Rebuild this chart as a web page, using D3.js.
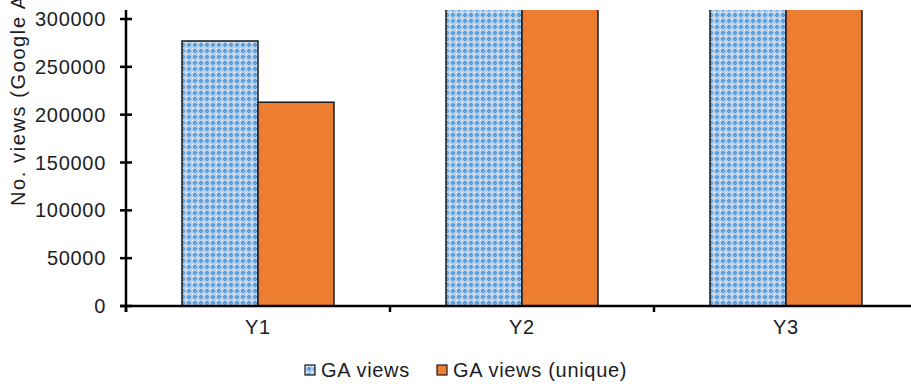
<!DOCTYPE html>
<html>
<head>
<meta charset="utf-8">
<script src="https://cdn.jsdelivr.net/npm/d3@7"></script>
<style>
  html, body { margin: 0; padding: 0; background: #fff; }
  svg { display: block; font-family: "Liberation Sans", Arial, sans-serif; }
  text { letter-spacing: 0.7px; }
</style>
</head>
<body>
<svg id="chart" width="911" height="389"></svg>
<script>
// Yearly page views from Google Analytics
const years = ["Y1", "Y2", "Y3"];
const seriesNames = ["GA views", "GA views (unique)"];
const gaViews = [277000, 415000, 460000];
const gaViewsUnique = [213000, 330000, 355000];
const yTicks = [0, 50000, 100000, 150000, 200000, 250000, 300000];

const svg = d3.select("#chart");
const textColor = "#1c1c28";

const x0 = d3.scaleBand().domain(years).range([126, 918]).paddingInner(0).paddingOuter(0);
const x1 = d3.scaleBand().domain(seriesNames).range([0, x0.bandwidth()]).paddingInner(0).paddingOuter(0.737);
const y = d3.scaleLinear().domain([0, 300000]).range([306, 19]);

// Lattice fill for the total-views series
const defs = svg.append("defs");
const pat = defs.append("pattern")
  .attr("id", "lattice").attr("patternUnits", "userSpaceOnUse")
  .attr("width", 6).attr("height", 6);
pat.append("rect").attr("width", 6).attr("height", 6).attr("fill", "#b3d0ef");
pat.append("rect").attr("x", 2).attr("y", 1).attr("width", 2).attr("height", 4).attr("fill", "#5b9bd5");
pat.append("rect").attr("x", 1).attr("y", 2).attr("width", 4).attr("height", 2).attr("fill", "#5b9bd5");
pat.append("rect").attr("x", 0).attr("y", 0).attr("width", 1).attr("height", 1).attr("fill", "#ffffff");
pat.append("rect").attr("x", 3).attr("y", 3).attr("width", 1).attr("height", 1).attr("fill", "#7fb0e0");

defs.append("clipPath").attr("id", "plotClip")
  .append("rect").attr("x", 120).attr("y", 10).attr("width", 800).attr("height", 300);

const fills = ["url(#lattice)", "#ed7d31"];
const rows = years.map((yr, i) => ({ year: yr, values: [gaViews[i], gaViewsUnique[i]] }));

// Bars
const bars = svg.append("g").attr("clip-path", "url(#plotClip)");
rows.forEach(r => {
  r.values.forEach((v, j) => {
    bars.append("rect")
      .attr("x", x0(r.year) + x1(seriesNames[j]))
      .attr("y", y(v))
      .attr("width", x1.bandwidth())
      .attr("height", y(0) - y(v))
      .attr("fill", fills[j])
      .attr("stroke", "#1a1a1a")
      .attr("stroke-width", 1.5);
  });
});

// Y axis
const yAxis = svg.append("g").attr("transform", "translate(126,0)");
yAxis.append("line").attr("x1", 0).attr("x2", 0).attr("y1", 10).attr("y2", 312)
  .attr("stroke", "#000").attr("stroke-width", 2.5);
yAxis.selectAll(".tick").data(yTicks).join("line")
  .attr("x1", -6).attr("x2", 6).attr("y1", d => y(d)).attr("y2", d => y(d))
  .attr("stroke", "#000").attr("stroke-width", 2.5);
yAxis.selectAll(".lbl").data(yTicks).join("text")
  .attr("x", -20).attr("y", d => y(d)).attr("dy", "0.35em")
  .attr("text-anchor", "end").attr("font-size", 20).attr("fill", textColor)
  .text(d => d);

// X axis
const xAxis = svg.append("g");
xAxis.append("line").attr("x1", 120).attr("x2", 918).attr("y1", y(0)).attr("y2", y(0))
  .attr("stroke", "#000").attr("stroke-width", 2.5);
const bounds = [126, ...years.map(d => x0(d) + x0.bandwidth())];
xAxis.selectAll(".tk").data(bounds).join("line")
  .attr("x1", d => d).attr("x2", d => d).attr("y1", y(0)).attr("y2", y(0) + 6)
  .attr("stroke", "#000").attr("stroke-width", 2.5);
xAxis.selectAll(".lbl").data(years).join("text")
  .attr("x", d => x0(d) + x0.bandwidth() / 2).attr("y", 327).attr("dy", "0.35em")
  .attr("text-anchor", "middle").attr("font-size", 20).attr("fill", textColor)
  .text(d => d);

// Axis title
svg.append("text")
  .attr("transform", "translate(25,206) rotate(-90)")
  .attr("text-anchor", "start").attr("font-size", 20).attr("fill", textColor)
  .style("letter-spacing", "1.6px")
  .text("No. views (Google Analytics)");

// Legend
const legend = svg.append("g");
const legendX = [305, 437];
seriesNames.forEach((name, j) => {
  legend.append("rect")
    .attr("x", legendX[j]).attr("y", 365).attr("width", 10).attr("height", 10)
    .attr("fill", fills[j]).attr("stroke", "#1a1a1a").attr("stroke-width", 1.2);
  legend.append("text")
    .attr("x", legendX[j] + 16).attr("y", 370).attr("dy", "0.35em")
    .attr("font-size", 20).attr("fill", textColor)
    .text(name);
});
</script>
</body>
</html>
